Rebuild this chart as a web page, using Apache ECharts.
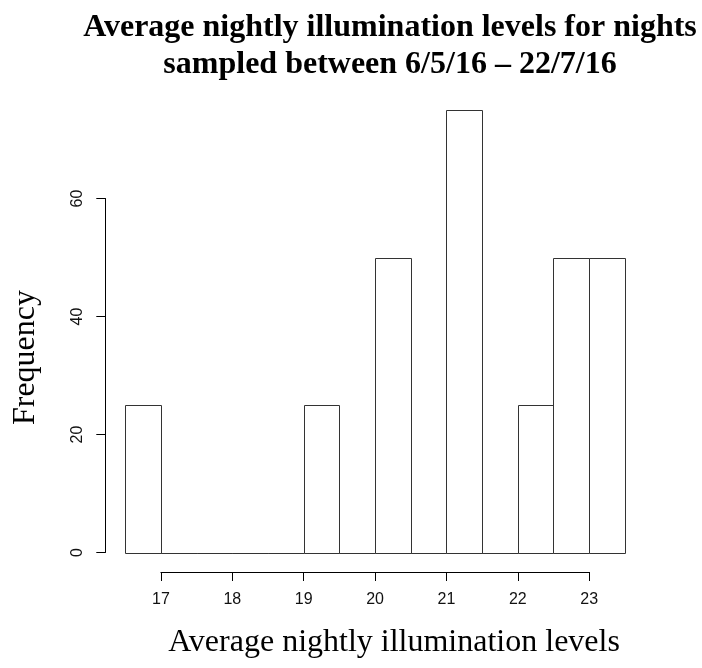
<!DOCTYPE html>
<html>
<head>
<meta charset="utf-8">
<script src="https://cdn.jsdelivr.net/npm/echarts@6/dist/echarts.min.js"></script>
<style>
html,body{margin:0;padding:0;background:#fff;}
#chart{width:702px;height:668px;}
</style>
</head>
<body>
<div id="chart"></div>
<script>
var titleText = 'Average nightly illumination levels for nights\nsampled between 6/5/16 \u2013 22/7/16';
var xTitle = 'Average nightly illumination levels';
var yTitle = 'Frequency';
var binStart = [16.5, 17, 17.5, 18, 18.5, 19, 19.5, 20, 20.5, 21, 21.5, 22, 22.5, 23];
var binEnd   = [17, 17.5, 18, 18.5, 19, 19.5, 20, 20.5, 21, 21.5, 22, 22.5, 23, 23.5];
var counts   = [25, 0, 0, 0, 0, 25, 0, 50, 0, 75, 0, 25, 50, 50];
var xTicks = [17, 18, 19, 20, 21, 22, 23];
var yTicks = [0, 20, 40, 60];

var data = binStart.map(function (s, i) { return [s, binEnd[i], counts[i]]; });

var chart = echarts.init(document.getElementById('chart'), null, {renderer: 'canvas'});
var serif = '"Liberation Serif", "Times New Roman", serif';
var sans = '"Liberation Sans", Arial, sans-serif';

chart.setOption({
  backgroundColor: '#fff',
  animation: false,
  title: {
    text: titleText,
    left: 385,
    top: 4,
    textAlign: 'center',
    textStyle: {fontFamily: serif, fontWeight: 'bold', fontSize: 32, lineHeight: 37, color: '#000'}
  },
  grid: [
    {left: 125.2, right: 77.2, top: 80.5, bottom: 115.5},
    {left: 160.9, width: 428.3, top: 560, height: 12},
    {left: 105.3, width: 10, top: 198.5, height: 354}
  ],
  xAxis: [
    {gridIndex: 0, type: 'value', min: 16.5, max: 23.5, show: false},
    {gridIndex: 1, type: 'value', min: xTicks[0], max: xTicks[xTicks.length - 1], interval: 1, position: 'bottom',
     axisLine: {show: true, lineStyle: {color: '#000', width: 1}},
     axisTick: {show: true, length: 9, lineStyle: {color: '#000'}},
     axisLabel: {show: true, margin: 20, fontFamily: sans, fontSize: 16, color: '#111',
       formatter: function (v) { return xTicks.indexOf(v) >= 0 ? String(v) : ''; }},
     splitLine: {show: false}},
    {gridIndex: 2, type: 'value', min: 0, max: 1, show: false}
  ],
  yAxis: [
    {gridIndex: 0, type: 'value', min: 0, max: 80, show: false},
    {gridIndex: 1, type: 'value', min: 0, max: 1, show: false},
    {gridIndex: 2, type: 'value', min: yTicks[0], max: yTicks[yTicks.length - 1], interval: 20, position: 'left',
     axisLine: {show: true, lineStyle: {color: '#000', width: 1}},
     axisTick: {show: true, length: 9, lineStyle: {color: '#000'}},
     axisLabel: {show: true, rotate: 90, margin: 20, fontFamily: sans, fontSize: 16, color: '#111',
       formatter: function (v) { return yTicks.indexOf(v) >= 0 ? String(v) : ''; }},
     splitLine: {show: false}}
  ],
  graphic: [
    {type: 'text', x: 26, y: 357.5, rotation: Math.PI / 2,
     style: {text: yTitle, font: '32px ' + serif, fill: '#000', align: 'center', verticalAlign: 'middle'}},
    {type: 'text', x: 394, y: 643,
     style: {text: xTitle, font: '32px ' + serif, fill: '#000', align: 'center', verticalAlign: 'middle'}}
  ],
  series: [{
    type: 'custom',
    xAxisIndex: 0,
    yAxisIndex: 0,
    data: data,
    renderItem: function (params, api) {
      var p0 = api.coord([api.value(0), api.value(2)]);
      var p1 = api.coord([api.value(1), 0]);
      var x0 = Math.round(p0[0]), x1 = Math.round(p1[0]);
      var y0 = Math.round(p0[1]), y1 = Math.round(p1[1]);
      return {
        type: 'rect',
        shape: {x: x0 + 0.5, y: y0 + 0.5, width: x1 - x0, height: y1 - y0},
        style: {fill: '#fff', stroke: '#333', lineWidth: 1}
      };
    }
  }]
});
</script>
</body>
</html>
